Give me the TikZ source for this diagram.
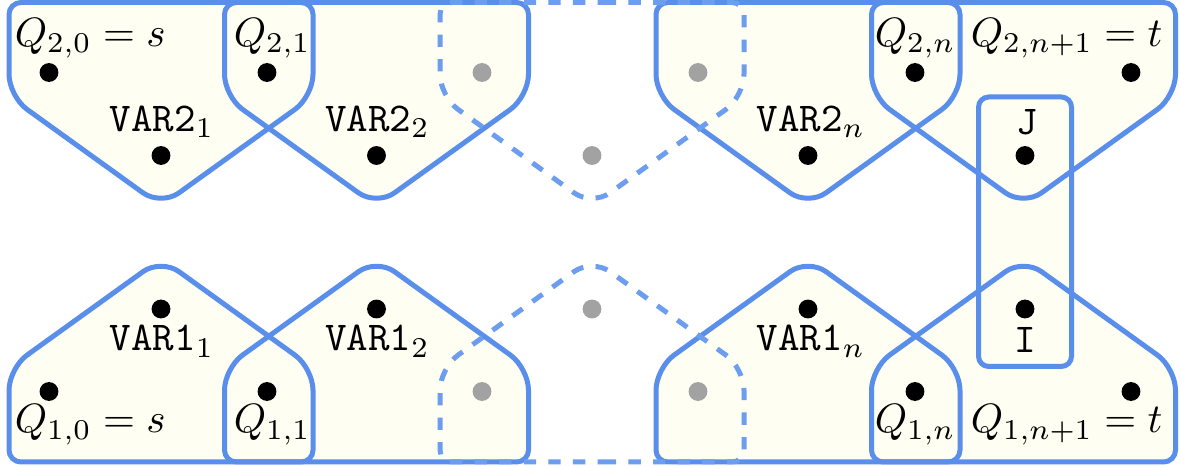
\documentclass[tikz,border=0pt]{standalone}
\definecolor{hullblue}{RGB}{90,142,235}
\definecolor{dashblue}{RGB}{108,157,238}
\definecolor{hullfill}{RGB}{254,254,242}
\definecolor{dotgray}{RGB}{162,162,162}
\newcommand\tophullpath[1]{(#1,2.5) [rounded corners=2.9pt] -- (#1+152,2.5) [rounded corners=5.4pt] -- (#1+152,96.4) -- (#1,205.8) -- (#1-152,96.4) [rounded corners=2.9pt] -- (#1-152,2.5) -- cycle}
\newcommand\bothullpath[1]{(#1,462) [rounded corners=2.9pt] -- (#1+152,462) [rounded corners=5.4pt] -- (#1+152,368.1) -- (#1,258.7) -- (#1-152,368.1) [rounded corners=2.9pt] -- (#1-152,462) -- cycle}
\begin{document}
\begin{tikzpicture}[x=0.244pt,y=-0.244pt,
  hullline/.style={line width=1.22pt, draw=hullblue},
  dashline/.style={line width=1.22pt, draw=dashblue, dashed},
  blackdot/.style={circle, fill=black, inner sep=0pt, minimum size=4.6pt},
  graydot/.style={circle, fill=dotgray, inner sep=0pt, minimum size=4.6pt},
  lbl/.style={inner sep=0pt, anchor=base west},
  clbl/.style={inner sep=0pt, anchor=base}]
\useasboundingbox (0,0) rectangle (1180,466);
% fills
\foreach \c in {161,376.5,808,1023.5}{
  \fill[hullfill] \tophullpath{\c};
  \fill[hullfill] \bothullpath{\c};
}
\fill[hullfill, rounded corners=2.5pt] (978.5,97) rectangle (1071.5,366.5);
% outlines
\foreach \c in {161,376.5,808,1023.5}{
  \draw[hullline] \tophullpath{\c};
  \draw[hullline] \bothullpath{\c};
}
\draw[hullline, rounded corners=2.5pt] (978.5,97) rectangle (1071.5,366.5);
\draw[dashline] \tophullpath{592};
\draw[dashline] \bothullpath{592};
% dots top
\node[blackdot] (q20) at (49,72.5) {};
\node[blackdot] (q21) at (267,72.5) {};
\node[graydot] (q22) at (482,72.5) {};
\node[graydot] (q2m) at (698,72.5) {};
\node[blackdot] (q2n) at (915,72.5) {};
\node[blackdot] (q2t) at (1131,72.5) {};
\node[blackdot] (v21) at (161,155.5) {};
\node[blackdot] (v22) at (376.5,155.5) {};
\node[graydot] (v23) at (592,155.5) {};
\node[blackdot] (v2n) at (808,155.5) {};
\node[blackdot] (j) at (1025,155.5) {};
% dots bottom
\node[blackdot] (q10) at (49,391.5) {};
\node[blackdot] (q11) at (267,391.5) {};
\node[graydot] (q12) at (482,391.5) {};
\node[graydot] (q1m) at (698,391.5) {};
\node[blackdot] (q1n) at (915,391.5) {};
\node[blackdot] (q1t) at (1131,391.5) {};
\node[blackdot] (v11) at (161,309) {};
\node[blackdot] (v12) at (376.5,309) {};
\node[graydot] (v13) at (592,309) {};
\node[blackdot] (v1n) at (808,309) {};
\node[blackdot] (i) at (1025,309) {};
% labels top
\node[lbl] (lq20) at (14,46.5) {$Q_{2,0} = s$};
\node[lbl] (lq21) at (233,46.5) {$Q_{2,1}$};
\node[lbl] (lq2n) at (874,46.5) {$Q_{2,n}$};
\node[lbl] (lq2t) at (970,46.5) {$Q_{2,n+1} = t$};
\node[lbl] (lv21) at (109,131.5) {\texttt{VAR2}$_1$};
\node[lbl] (lv22) at (324.5,131.5) {\texttt{VAR2}$_2$};
\node[lbl] (lv2n) at (756,131.5) {\texttt{VAR2}$_n$};
\node[clbl] (lj) at (1027,135) {\texttt{J}};
% labels bottom
\node[lbl] (lq10) at (14,433) {$Q_{1,0} = s$};
\node[lbl] (lq11) at (233,433) {$Q_{1,1}$};
\node[lbl] (lq1n) at (874,433) {$Q_{1,n}$};
\node[lbl] (lq1t) at (970,433) {$Q_{1,n+1} = t$};
\node[lbl] (lv11) at (109,351) {\texttt{VAR1}$_1$};
\node[lbl] (lv12) at (324.5,351) {\texttt{VAR1}$_2$};
\node[lbl] (lv1n) at (756,351) {\texttt{VAR1}$_n$};
\node[clbl] (li) at (1025,353) {\texttt{I}};
\end{tikzpicture}
\end{document}
